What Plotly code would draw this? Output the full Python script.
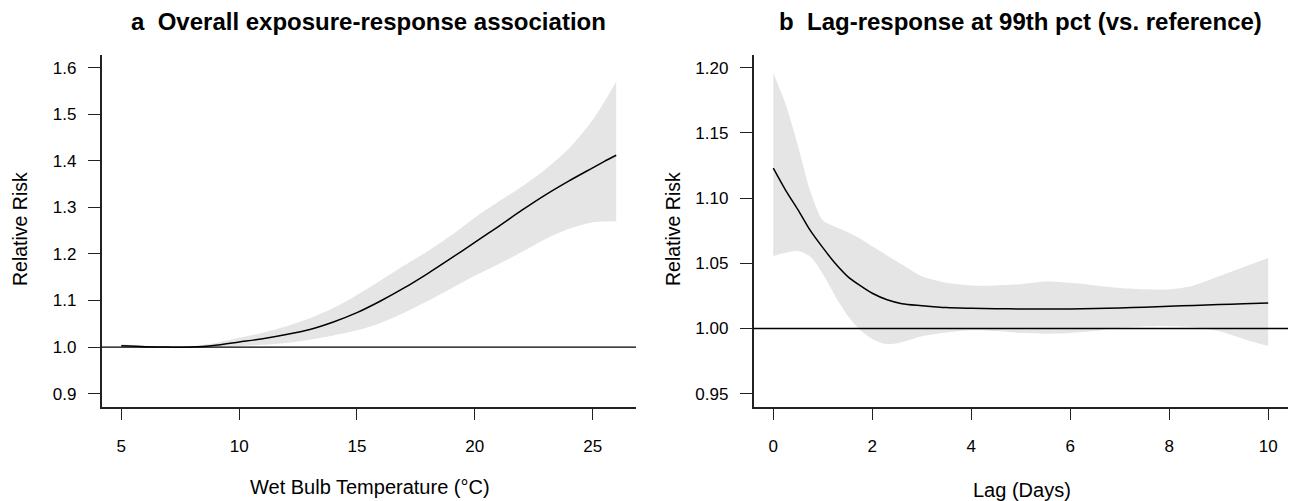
import plotly.graph_objects as go

# ---------------- Data: panel a (overall exposure-response) ----------------
temp_x = [5, 6, 7, 8, 9, 10, 11, 12, 13, 14, 15, 16, 17, 18, 19, 20, 21, 22, 23, 24, 25, 25.5, 26]
rr_a = [1.003, 1.001, 1.000, 1.000, 1.004, 1.011, 1.018, 1.027, 1.038, 1.054, 1.074, 1.099, 1.127,
        1.158, 1.191, 1.225, 1.259, 1.294, 1.327, 1.357, 1.385, 1.399, 1.412]
lo_a = [1.000, 0.999, 1.000, 1.000, 1.001, 1.002, 1.005, 1.009, 1.016, 1.025, 1.036, 1.052, 1.074,
        1.099, 1.126, 1.153, 1.178, 1.204, 1.232, 1.254, 1.268, 1.270, 1.270]
hi_a = [1.006, 1.003, 1.000, 1.002, 1.009, 1.020, 1.031, 1.045, 1.062, 1.084, 1.112, 1.143, 1.175,
        1.206, 1.240, 1.278, 1.312, 1.345, 1.382, 1.427, 1.488, 1.527, 1.570]

# ---------------- Data: panel b (lag-response at 99th pct) ----------------
lag_x = [0, 0.25, 0.5, 0.75, 1, 1.25, 1.5, 1.75, 2, 2.3, 2.6, 3, 3.5, 4, 4.5, 5, 5.5, 6, 6.5, 7,
         7.5, 8, 8.5, 9, 9.5, 10]
rr_b = [1.123, 1.106, 1.091, 1.075, 1.062, 1.050, 1.040, 1.033, 1.027, 1.022, 1.019, 1.0175, 1.016,
        1.0155, 1.0152, 1.015, 1.015, 1.015, 1.0153, 1.0158, 1.0163, 1.017, 1.0177, 1.0183, 1.019, 1.0195]
lo_b = [1.0556, 1.058, 1.0595, 1.055, 1.042, 1.025, 1.010, 0.999, 0.992, 0.988, 0.9895, 0.994,
        0.997, 0.9987, 0.998, 0.9965, 0.996, 0.9966, 0.998, 1.0005, 1.0015, 1.0018, 1.001, 0.998,
        0.992, 0.9866]
hi_b = [1.196, 1.172, 1.140, 1.105, 1.083, 1.078, 1.074, 1.069, 1.063, 1.056, 1.049, 1.040, 1.035,
        1.033, 1.033, 1.034, 1.036, 1.035, 1.033, 1.031, 1.030, 1.030, 1.033, 1.040, 1.047, 1.054]

ticks_a_x = [5, 10, 15, 20, 25]
ticks_a_y = [0.9, 1.0, 1.1, 1.2, 1.3, 1.4, 1.5, 1.6]
ticks_b_x = [0, 2, 4, 6, 8, 10]
ticks_b_y = [0.95, 1.00, 1.05, 1.10, 1.15, 1.20]

title_a = "<b>a  Overall exposure-response association</b>"
title_b = "<b>b  Lag-response at 99th pct (vs. reference)</b>"
xlab_a = "Wet Bulb Temperature (°C)"
xlab_b = "Lag (Days)"
ylab = "Relative Risk"

W, H = 1295, 501
FONT = "Liberation Sans, Arial, Helvetica, sans-serif"
BAND = "#e5e5e5"

fig = go.Figure()

def add_panel(x, lo, hi, rr, xa, ya):
    fig.add_trace(go.Scatter(x=x, y=lo, mode="lines", line=dict(width=0, color=BAND, shape="spline", smoothing=0.8),
                             xaxis=xa, yaxis=ya, showlegend=False, hoverinfo="skip"))
    fig.add_trace(go.Scatter(x=x, y=hi, mode="lines", line=dict(width=0, color=BAND, shape="spline", smoothing=0.8),
                             fill="tonexty", fillcolor=BAND, xaxis=xa, yaxis=ya, showlegend=False, hoverinfo="skip"))
    fig.add_trace(go.Scatter(x=x, y=rr, mode="lines", line=dict(width=1.5, color="black", shape="spline", smoothing=0.8),
                             xaxis=xa, yaxis=ya, showlegend=False))

add_panel(temp_x, lo_a, hi_a, rr_a, "x", "y")
add_panel(lag_x, lo_b, hi_b, rr_b, "x2", "y2")

ydom = [94.3 / H, 446.3 / H]
dom_a = [101.5 / W, 636 / W]
dom_b = [753.5 / W, 1288 / W]

axis_common = dict(showgrid=False, zeroline=False, showline=True, linecolor="#222", linewidth=1.5,
                   ticks="outside", ticklen=12, tickwidth=1.3, tickcolor="#222",
                   tickfont=dict(family=FONT, size=17, color="black"))

fig.update_layout(
    width=W, height=H,
    margin=dict(l=0, r=0, t=0, b=0),
    paper_bgcolor="white", plot_bgcolor="white",
    xaxis=dict(domain=dom_a, range=[4.16, 26.84], tickvals=ticks_a_x, anchor="y",
               ticklabelstandoff=11, **axis_common),
    yaxis=dict(domain=ydom, range=[0.872, 1.628], tickvals=ticks_a_y, tickformat=".1f", anchor="x",
               ticklabelstandoff=8, **axis_common),
    xaxis2=dict(domain=dom_b, range=[-0.4, 10.4], tickvals=ticks_b_x, anchor="y2",
                ticklabelstandoff=11, **axis_common),
    yaxis2=dict(domain=ydom, range=[0.94, 1.21], tickvals=ticks_b_y, tickformat=".2f", anchor="x2",
                ticklabelstandoff=8, **axis_common),
)

# reference lines at RR = 1
for xr, yr in (("x domain", "y"), ("x2 domain", "y2")):
    fig.add_shape(type="line", xref=xr, yref=yr, x0=0, x1=1, y0=1, y1=1,
                  line=dict(color="black", width=1.4), layer="above")

def ann(text, px, py, size, angle=0):
    fig.add_annotation(text=text, x=px / W, y=1 - py / H, xref="paper", yref="paper",
                       xanchor="center", yanchor="middle", showarrow=False, textangle=angle,
                       font=dict(family=FONT, size=size, color="black"))

ann(title_a, 368.8, 21, 24)
ann(title_b, 1020.8, 21, 24)
ann(xlab_a, 369.5, 487, 20)
ann(xlab_b, 1022, 490, 20)
ann(ylab, 20, 229, 19.5, angle=-90)
ann(ylab, 673, 229, 19.5, angle=-90)

fig.write_html(
    "out.html",
    config={"displayModeBar": False},
    post_script="document.body.style.margin='0';document.body.style.overflow='hidden';"
                "document.documentElement.style.overflow='hidden';",
)
